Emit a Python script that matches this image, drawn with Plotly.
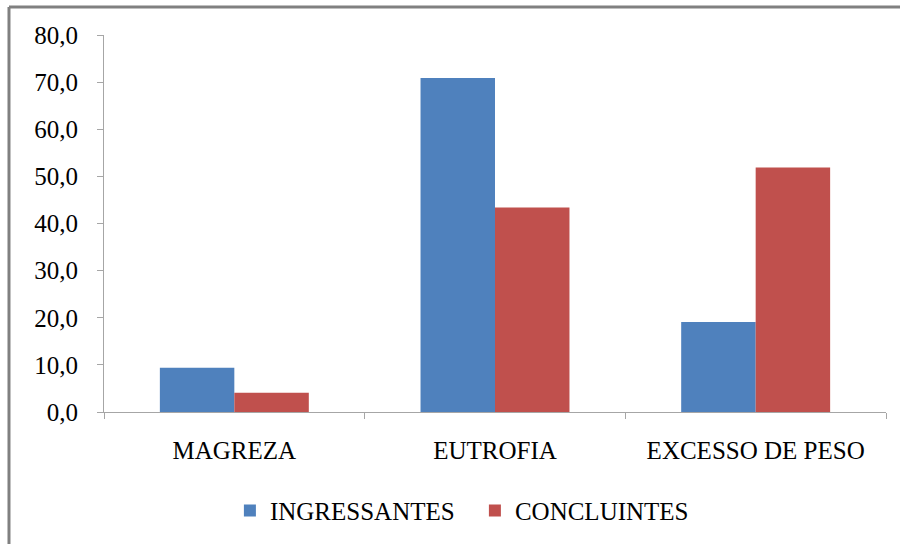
import plotly.graph_objects as go

categories = ["MAGREZA", "EUTROFIA", "EXCESSO DE PESO"]
ingressantes = [9.4, 70.9, 19.1]
concluintes = [4.1, 43.4, 51.9]
y_ticks = [0, 10, 20, 30, 40, 50, 60, 70, 80]

font_family = "Liberation Serif"
axis_gray = "#a6a6a6"
text_size = 25

fig = go.Figure()
fig.add_trace(go.Bar(name="INGRESSANTES", x=categories, y=ingressantes,
                     marker=dict(color="#4F81BD", line=dict(width=0))))
fig.add_trace(go.Bar(name="CONCLUINTES", x=categories, y=concluintes,
                     marker=dict(color="#C0504D", line=dict(width=0))))

# outer chart frame (top and left edges)
frame_x = -0.1215
frame_y = 1.074
fig.add_shape(type="line", xref="paper", yref="paper",
              x0=frame_x, x1=1.1, y0=frame_y, y1=frame_y,
              line=dict(color="#808080", width=3))
fig.add_shape(type="line", xref="paper", yref="paper",
              x0=frame_x, x1=frame_x, y0=frame_y, y1=-0.4,
              line=dict(color="#808080", width=3))

fig.update_layout(
    width=900, height=544,
    margin=dict(l=104, r=14, t=35, b=132, autoexpand=False),
    paper_bgcolor="white", plot_bgcolor="white",
    barmode="group", bargap=0.4286, bargroupgap=0,
    separators=",.",
    font=dict(family=font_family, size=text_size, color="#000000"),
    showlegend=True,
    legend=dict(orientation="h", x=0.161, xanchor="left", y=-0.262, yanchor="middle",
                font=dict(family=font_family, size=text_size), itemwidth=30,
                entrywidth=200, entrywidthmode="pixels",
                tracegroupgap=0, traceorder="normal"),
    xaxis=dict(showline=True, linecolor=axis_gray, linewidth=1, automargin=False,
               ticks="outside", tickson="boundaries", ticklen=6, tickcolor=axis_gray,
               tickfont=dict(family=font_family, size=text_size), showgrid=False,
               ticklabelstandoff=16),
    yaxis=dict(range=[0, 80], tickvals=y_ticks, tickformat=".1f", automargin=False,
               showline=True, linecolor=axis_gray, linewidth=1,
               ticks="outside", ticklen=6, tickcolor=axis_gray,
               tickfont=dict(family=font_family, size=text_size), showgrid=False,
               zeroline=False, ticklabelstandoff=14),
)

fig.write_html("out.html")
